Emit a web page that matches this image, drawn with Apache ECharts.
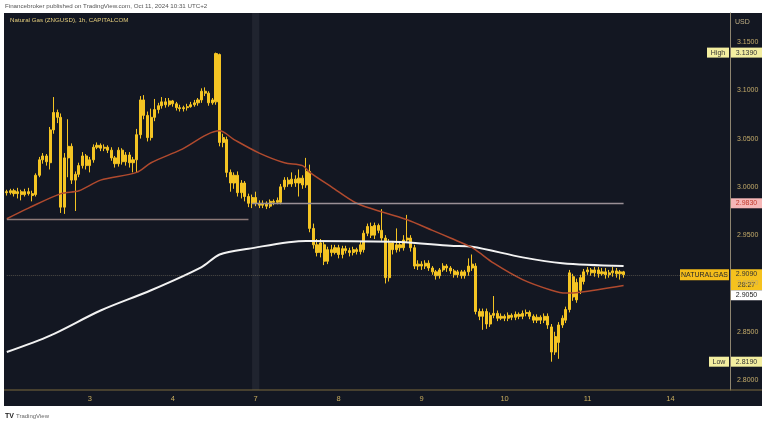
<!DOCTYPE html>
<html><head><meta charset="utf-8">
<script src="https://cdn.jsdelivr.net/npm/echarts@6/dist/echarts.min.js"></script>
<style>html,body{margin:0;padding:0;background:#fff}#c{width:768px;height:425px}</style>
</head><body><div id="c"></div>
<script>
const FONT = "'Liberation Sans', Arial, sans-serif";
const days = [2, 3, 4, 7, 8, 9, 10, 11, 14];
const hoursPerDay = 23;
const totalSlots = 201;
const xTickLabels = ['3', '4', '7', '8', '9', '10', '11', '14'];
const yTickValues = [2.80, 2.85, 2.90, 2.95, 3.00, 3.05, 3.10, 3.15];

const opens = [
2.995,2.994,2.996,2.993,2.995,2.992,2.995,2.993,2.992,3.012,
3.028,3.032,3.025,3.059,3.077,3.072,2.979,3.030,3.042,3.007,
3.013,3.022,3.032,3.022,3.028,3.041,3.043,3.040,3.041,3.038,
3.030,3.024,3.038,3.026,3.033,3.025,3.028,3.054,3.090,3.074,
3.051,3.072,3.080,3.084,3.088,3.085,3.089,3.086,3.082,3.081,
3.082,3.083,3.085,3.087,3.090,3.099,3.097,3.087,3.088,3.137,
3.046,3.049,3.015,3.004,3.012,2.994,3.004,2.990,2.983,2.989,
2.983,2.981,2.983,2.980,2.985,2.984,2.984,3.000,3.007,3.003,
3.008,3.004,3.009,3.002,3.016,2.957,2.940,2.932,2.940,2.923,
2.935,2.932,2.937,2.930,2.936,2.934,2.932,2.935,2.933,2.935,
2.952,2.959,2.950,2.960,2.955,2.947,2.906,2.942,2.935,2.940,
2.937,2.945,2.947,2.937,2.918,2.920,2.918,2.921,2.916,2.912,
2.908,2.914,2.918,2.916,2.913,2.909,2.912,2.908,2.912,2.916,
2.918,2.871,2.866,2.871,2.858,2.867,2.869,2.864,2.866,2.864,
2.867,2.865,2.868,2.866,2.869,2.870,2.866,2.862,2.865,2.862,
2.866,2.855,2.829,2.839,2.857,2.862,2.873,2.907,2.883,2.893,
2.902,2.912,2.914,2.911,2.914,2.910,2.912,2.909,2.911,2.913,
2.910,2.912];
const closes = [
2.994,2.996,2.993,2.995,2.992,2.995,2.993,2.991,3.012,3.028,
3.032,3.026,3.059,3.077,3.072,2.979,3.030,3.042,3.007,3.013,
3.022,3.032,3.022,3.028,3.041,3.043,3.040,3.041,3.038,3.030,
3.024,3.038,3.026,3.033,3.025,3.028,3.054,3.090,3.074,3.051,
3.072,3.080,3.084,3.088,3.085,3.089,3.086,3.082,3.081,3.082,
3.083,3.085,3.087,3.090,3.099,3.097,3.087,3.090,3.138,3.046,
3.051,3.015,3.004,3.012,2.994,3.004,2.990,2.983,2.989,2.983,
2.981,2.983,2.980,2.985,2.984,2.986,3.000,3.007,3.003,3.008,
3.004,3.009,3.002,3.016,2.957,2.940,2.932,2.942,2.923,2.935,
2.932,2.937,2.930,2.936,2.934,2.932,2.935,2.933,2.940,2.952,
2.959,2.950,2.960,2.955,2.947,2.906,2.942,2.935,2.940,2.937,
2.945,2.947,2.937,2.918,2.920,2.918,2.921,2.916,2.912,2.908,
2.914,2.918,2.916,2.913,2.909,2.912,2.908,2.912,2.918,2.920,
2.871,2.866,2.871,2.858,2.867,2.869,2.864,2.866,2.864,2.867,
2.865,2.868,2.866,2.869,2.870,2.866,2.862,2.865,2.862,2.866,
2.857,2.829,2.845,2.857,2.864,2.873,2.911,2.886,2.901,2.906,
2.912,2.914,2.911,2.914,2.910,2.912,2.909,2.911,2.913,2.910,
2.912,2.909];
const highs = [
2.997,2.998,2.998,2.999,2.997,2.998,2.999,2.996,3.014,3.031,
3.035,3.034,3.062,3.093,3.080,3.076,3.035,3.070,3.045,3.016,
3.025,3.036,3.034,3.031,3.044,3.046,3.045,3.044,3.043,3.041,
3.032,3.041,3.040,3.036,3.036,3.031,3.060,3.094,3.095,3.078,
3.081,3.091,3.087,3.093,3.092,3.092,3.090,3.088,3.085,3.084,
3.086,3.088,3.090,3.092,3.102,3.103,3.099,3.092,3.139,3.138,
3.055,3.052,3.018,3.015,3.016,3.007,3.006,2.993,2.992,2.995,
2.986,2.986,2.985,2.987,2.987,2.989,3.003,3.010,3.010,3.015,
3.012,3.018,3.012,3.030,3.023,2.962,2.946,2.946,2.943,2.938,
2.940,2.940,2.940,2.939,2.939,2.937,2.938,2.937,2.943,2.955,
2.962,2.963,2.963,2.962,2.977,2.950,2.946,2.944,2.957,2.944,
2.950,2.971,2.950,2.940,2.924,2.923,2.924,2.924,2.918,2.914,
2.916,2.921,2.920,2.918,2.915,2.914,2.914,2.914,2.926,2.930,
2.921,2.874,2.874,2.874,2.870,2.887,2.872,2.869,2.868,2.870,
2.869,2.871,2.870,2.872,2.873,2.872,2.868,2.868,2.867,2.869,
2.869,2.858,2.850,2.860,2.867,2.876,2.914,2.910,2.905,2.909,
2.915,2.917,2.916,2.917,2.917,2.916,2.916,2.914,2.917,2.916,
2.914,2.913];
const lows = [
2.991,2.992,2.990,2.988,2.986,2.990,2.991,2.985,2.990,3.010,
3.024,3.022,3.018,3.055,3.066,2.973,2.972,3.010,3.003,2.975,
3.010,3.019,3.018,3.015,3.025,3.039,3.037,3.037,3.035,3.027,
3.020,3.021,3.023,3.022,3.020,3.015,3.015,3.050,3.070,3.047,
3.048,3.068,3.076,3.081,3.082,3.083,3.083,3.079,3.078,3.078,
3.079,3.082,3.083,3.084,3.087,3.094,3.084,3.085,3.085,3.042,
3.041,3.010,2.995,2.998,2.990,2.988,2.985,2.979,2.978,2.980,
2.978,2.978,2.977,2.978,2.981,2.982,2.982,2.997,3.000,3.000,
3.000,2.990,2.998,2.999,2.953,2.936,2.928,2.927,2.919,2.920,
2.928,2.930,2.926,2.926,2.931,2.928,2.929,2.930,2.930,2.932,
2.949,2.947,2.946,2.952,2.944,2.900,2.902,2.930,2.932,2.933,
2.934,2.942,2.933,2.915,2.914,2.914,2.915,2.913,2.909,2.904,
2.905,2.912,2.912,2.910,2.906,2.906,2.905,2.905,2.908,2.913,
2.868,2.862,2.852,2.853,2.855,2.864,2.861,2.862,2.861,2.861,
2.862,2.862,2.863,2.863,2.866,2.863,2.859,2.859,2.858,2.859,
2.853,2.819,2.826,2.822,2.854,2.859,2.870,2.882,2.880,2.889,
2.899,2.909,2.908,2.907,2.906,2.908,2.905,2.906,2.907,2.906,
2.904,2.906];

// Moving averages at sample candles: [candle index, value]
const ma50 = [[0,2.967],[6,2.978],[15,2.993],[20,2.996],[26,3.007],[36,3.015],[40,3.025],[48,3.038],[59,3.058],[63,3.049],[70,3.035],[77,3.025],[82,3.022],[84,3.015],[90,3.000],[97,2.983],[105,2.973],[111,2.966],[118,2.955],[123,2.947],[129,2.937],[135,2.921],[143,2.904],[151,2.893],[155,2.890],[159,2.891],[171,2.898]];
const ma200 = [[0,2.829],[12,2.846],[26,2.872],[40,2.893],[54,2.917],[59,2.930],[67,2.936],[83,2.944],[109,2.943],[123,2.939],[129,2.938],[143,2.927],[154,2.921],[171,2.918]];

// Horizontal levels: [value, from candle, to candle]
const levelUpper = [2.983, 68, 171];
const levelLower = [2.9668, 0, 67];
const weekendBand = [68, 70];
const highPrice = 3.1390, lowPrice = 2.8190, lastPrice = 2.9090, maLabel = 2.9050;
const countdown = '28:27';
const symbolName = 'NATURALGAS';

const categories = [];
days.forEach(d => { for (let h = 0; h < hoursPerDay; h++) categories.push('Oct ' + d + ' ' + String(h).padStart(2, '0') + ':00'); });
categories.length = totalSlots;
const dayStarts = {};
days.slice(1).forEach((d, k) => { dayStarts[(k + 1) * hoursPerDay] = xTickLabels[k]; });

const candles = opens.map((o, i) => [o, closes[i], lows[i], highs[i]]);

const chart = echarts.init(document.getElementById('c'), null, {renderer: 'canvas'});
const GOLD = '#f4c423';

function staticGraphics() {
  return [
    {id: 'panel', type: 'rect', z: -10, silent: true, shape: {x: 4, y: 13, width: 758, height: 393}, style: {fill: '#131722'}},
    {id: 'baseline', type: 'line', z: 5, shape: {x1: 4, y1: 390, x2: 762, y2: 390}, style: {stroke: '#7d6a3c', lineWidth: 1}},
    {id: 'hdr', type: 'text', style: {x: 5, y: 6, text: 'Financebroker published on TradingView.com, Oct 11, 2024 10:31 UTC+2', fill: '#555', fontSize: 6.2, fontFamily: FONT, verticalAlign: 'middle', textVerticalAlign: 'middle'}},
    {id: 'ttl', type: 'text', z: 10, style: {x: 10, y: 20, text: 'Natural Gas (ZNGUSD), 1h, CAPITALCOM', fill: '#e3cc7c', fontSize: 6.2, fontFamily: FONT, verticalAlign: 'middle', textVerticalAlign: 'middle'}},
    {id: 'usd', type: 'text', z: 10, style: {x: 735, y: 22, text: 'USD', fill: '#bfae84', fontSize: 7, fontFamily: FONT, verticalAlign: 'middle', textVerticalAlign: 'middle'}},
    {id: 'tvlogo', type: 'text', style: {x: 5, y: 416, text: 'TV', fill: '#222', fontSize: 7, fontWeight: 'bold', fontFamily: FONT, verticalAlign: 'middle', textVerticalAlign: 'middle'}},
    {id: 'tvtext', type: 'text', style: {x: 16, y: 416, text: 'TradingView', fill: '#666', fontSize: 6, fontFamily: FONT, verticalAlign: 'middle', textVerticalAlign: 'middle'}}
  ];
}

chart.setOption({
  animation: false,
  backgroundColor: '#ffffff',
  grid: {left: 5, right: 38, top: 13, bottom: 35, containLabel: false},
  xAxis: {
    type: 'category', data: categories, boundaryGap: true,
    axisLine: {show: false}, axisTick: {show: false}, splitLine: {show: false},
    axisLabel: {
      interval: (idx) => dayStarts[idx] !== undefined,
      formatter: (v, idx) => dayStarts[idx] || '',
      color: '#c9ad5e', fontSize: 7.5, fontFamily: FONT, margin: 5
    }
  },
  yAxis: {
    type: 'value', position: 'right', min: 2.7897, max: 3.18,
    axisLine: {show: true, lineStyle: {color: '#8e8570', width: 1}},
    axisTick: {show: false}, splitLine: {show: false},
    axisLabel: {customValues: yTickValues, formatter: v => v.toFixed(4), color: '#c4ab6a', fontSize: 7, fontFamily: FONT, margin: 7}
  },
  graphic: staticGraphics(),
  series: [
    {
      type: 'candlestick', data: candles, barWidth: '72%', z: 2,
      itemStyle: {color: GOLD, color0: GOLD, borderColor: GOLD, borderColor0: GOLD, borderWidth: 1},
      markArea: {silent: true, itemStyle: {color: 'rgba(255,255,255,0.06)'}, data: [[{xAxis: weekendBand[0]}, {xAxis: weekendBand[1]}]]},
      markLine: {
        silent: true, symbol: 'none', label: {show: false},
        data: [
          [{coord: [levelUpper[1], levelUpper[0]], lineStyle: {color: '#9a9096', width: 1.3, type: 'solid'}}, {coord: [levelUpper[2], levelUpper[0]]}],
          [{coord: [levelLower[1], levelLower[0]], lineStyle: {color: '#8d7a78', width: 1.3, type: 'solid'}}, {coord: [levelLower[2], levelLower[0]]}],
          [{coord: [0, lastPrice], lineStyle: {color: 'rgba(190,175,140,0.35)', width: 1, type: 'dotted'}}, {coord: [totalSlots - 1, lastPrice]}]
        ]
      }
    },
    {type: 'line', data: ma200, showSymbol: false, smooth: 0.3, z: 4, lineStyle: {color: '#f2f2f2', width: 2}},
    {type: 'line', data: ma50, showSymbol: false, smooth: 0.3, z: 4, lineStyle: {color: '#b04a2e', width: 1.5}}
  ]
});

function badge(id, x, yc, w, h, bg, lines, color) {
  const children = [{type: 'rect', shape: {x: x, y: yc - h / 2, width: w, height: h}, style: {fill: bg}}];
  const lh = h / lines.length;
  lines.forEach((t, k) => {
    children.push({type: 'text', style: {x: x + w / 2, y: yc - h / 2 + lh * (k + 0.5), text: t, fill: color, fontSize: 7, fontFamily: FONT, align: 'center', verticalAlign: 'middle', textAlign: 'center', textVerticalAlign: 'middle'}});
  });
  return {id: id, type: 'group', z: 20, children: children};
}

const yp = v => chart.convertToPixel({yAxisIndex: 0}, v);
const yHigh = yp(highPrice), yLow = yp(lowPrice), yLast = yp(lastPrice), yLvl = yp(levelUpper[0]);
const extra = [
  badge('bHighL', 707, yHigh, 22, 10, '#f3eea0', ['High'], '#333'),
  badge('bHighV', 731, yHigh, 31, 10, '#f3eea0', [highPrice.toFixed(4)], '#333'),
  badge('bLvl', 731, yLvl, 31, 10, '#f6b7b7', [levelUpper[0].toFixed(4)], '#c0392b'),
  badge('bSym', 680, yLast, 49, 11, '#f5bd1a', [symbolName], '#222'),
  badge('bLast', 731, yLast + 5, 31, 21, '#f5c21e', [lastPrice.toFixed(4), countdown], '#333'),
  badge('bMa', 731, yLast + 20.5, 31, 10, '#ffffff', [maLabel.toFixed(4)], '#222'),
  badge('bLowL', 709, yLow, 20, 10, '#f3eea0', ['Low'], '#333'),
  badge('bLowV', 731, yLow, 31, 10, '#f3eea0', [lowPrice.toFixed(4)], '#333')
];
chart.setOption({graphic: staticGraphics().concat(extra)});
</script>
</body></html>
